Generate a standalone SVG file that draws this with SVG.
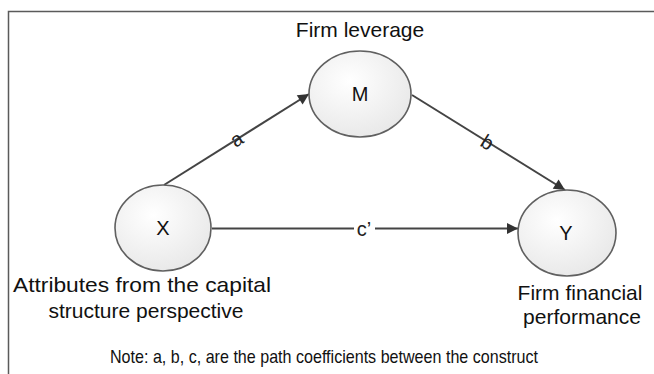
<svg xmlns="http://www.w3.org/2000/svg" width="654" height="374" viewBox="0 0 654 374">
  <style>
    .frame { fill: none; stroke: #5a5a5a; stroke-width: 1.5; }
    .node { fill: url(#nodeFill); stroke: #606060; stroke-width: 1.6; }
    .sym { font-family: "Liberation Sans", Arial, sans-serif; font-size: 20px; fill: #111; text-anchor: middle; }
    .cap { font-family: "Liberation Sans", Arial, sans-serif; font-size: 21px; fill: #111; text-anchor: middle; }
    .note { font-family: "Liberation Sans", Arial, sans-serif; font-size: 19px; fill: #111; }
    .edge { stroke: #444; stroke-width: 2; fill: none; marker-end: url(#arrow); }
    .elabel { font-family: "Liberation Sans", Arial, sans-serif; font-size: 20px; fill: #222; text-anchor: middle; }
  </style>
  <defs>
    <radialGradient id="nodeFill" cx="0.4" cy="0.35" r="0.75">
      <stop offset="0" stop-color="#ffffff"/>
      <stop offset="1" stop-color="#e6e6e6"/>
    </radialGradient>
    <marker id="arrow" viewBox="0 0 10 10" refX="10" refY="5" markerWidth="6" markerHeight="5.5" orient="auto" markerUnits="strokeWidth">
      <path d="M0,0 L10,5 L0,10 z" fill="#333"/>
    </marker>
  </defs>

  <rect width="654" height="374" fill="#fff"/>
  <!-- outer frame, open to the right and bottom -->
  <path class="frame" d="M8.5,380 L8.5,11.5 L660,11.5"/>

  <g id="connectors">
    <line class="edge" x1="164" y1="185" x2="309" y2="94"/>
    <line class="edge" x1="412" y1="95" x2="565" y2="190"/>
    <line class="edge" x1="212" y1="228.5" x2="518" y2="228.5"/>
    <rect x="354" y="218" width="21" height="20" fill="#fff"/>
    <text class="elabel" x="237" y="146" transform="rotate(-32 237 140)">a</text>
    <text class="elabel" x="487" y="149" transform="rotate(32 487 143)">b</text>
    <text class="elabel" x="364" y="236">c’</text>
  </g>

  <g id="node-M">
    <ellipse class="node" cx="360" cy="94" rx="51" ry="43"/>
    <text class="sym" x="360" y="101">M</text>
    <text class="cap" x="360" y="37">Firm leverage</text>
  </g>

  <g id="node-X">
    <ellipse class="node" cx="163" cy="228" rx="48" ry="43"/>
    <text class="sym" x="163" y="235">X</text>
    <text class="cap" x="142" y="292" textLength="258" lengthAdjust="spacingAndGlyphs">Attributes from the capital</text>
    <text class="cap" x="146" y="318">structure perspective</text>
  </g>

  <g id="node-Y">
    <ellipse class="node" cx="567" cy="233" rx="49" ry="43"/>
    <text class="sym" x="566" y="240">Y</text>
    <text class="cap" x="580" y="300">Firm financial</text>
    <text class="cap" x="582" y="324">performance</text>
  </g>

  <text class="note" x="110" y="363" textLength="428" lengthAdjust="spacingAndGlyphs">Note: a, b, c, are the path coefficients between the construct</text>
</svg>
